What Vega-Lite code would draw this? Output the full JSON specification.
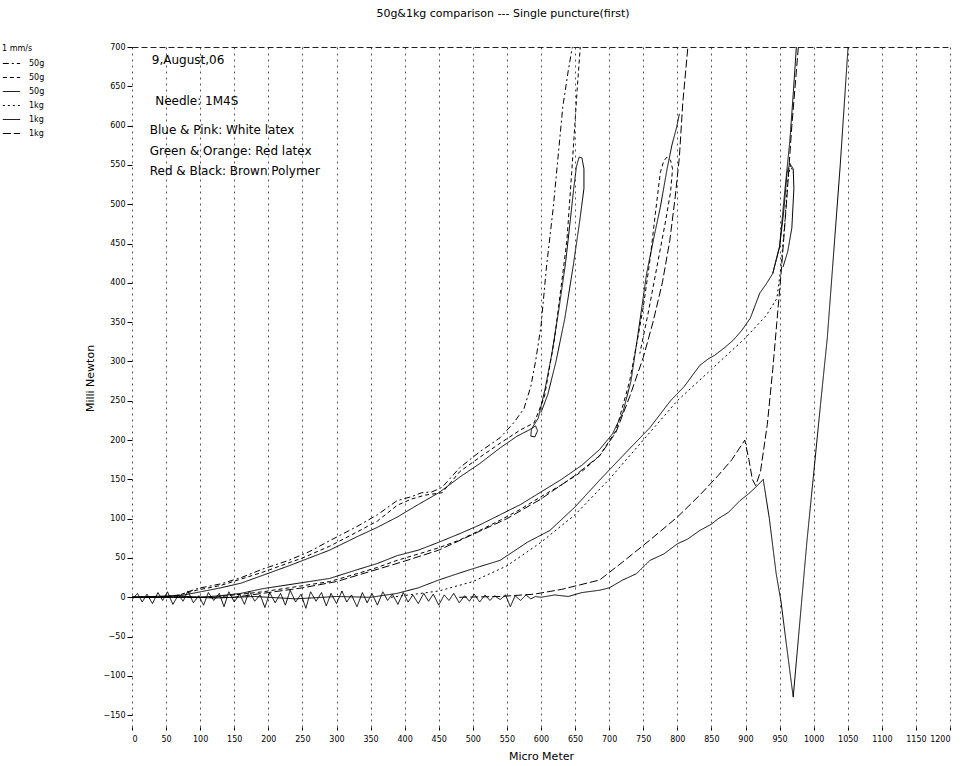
{
"$schema": "https://vega.github.io/schema/vega-lite/v6.json",
"width": 818,
"height": 680,
"autosize": {"type": "none"},
"padding": {"left": 132, "top": 47, "right": 29, "bottom": 39},
"background": "white",
"title": {"text": "50g&1kg comparison --- Single puncture(first)", "fontSize": 11, "fontWeight": "normal", "font": "DejaVu Sans", "color": "#000", "anchor": "middle", "dx": -38, "offset": 24},
"config": {
  "font": "DejaVu Sans",
  "view": {"stroke": null},
  "axis": {"labelFontSize": 8, "labelColor": "#000", "tickColor": "#000", "tickSize": 4, "domain": false, "titleFontWeight": "normal", "titleFontSize": 11, "titleColor": "#000"},
  "legend": {"orient": "none", "legendX": -130, "legendY": -2, "titleFontSize": 8, "titleFontWeight": "normal", "labelFontSize": 8, "symbolType": "stroke", "symbolSize": 300, "symbolStrokeColor": "#000", "rowPadding": 0, "labelOffset": 8, "labelColor": "#000", "titleColor": "#000", "titlePadding": 1}
},
"datasets": {
"curves": [
{"s":"1_50g","c":"W2","x":0,"y":0},{"s":"1_50g","c":"W2","x":50,"y":1},{"s":"1_50g","c":"W2","x":70,"y":3},{"s":"1_50g","c":"W2","x":95,"y":11},{"s":"1_50g","c":"W2","x":130,"y":17},{"s":"1_50g","c":"W2","x":160,"y":25},{"s":"1_50g","c":"W2","x":192,"y":36},{"s":"1_50g","c":"W2","x":230,"y":47},{"s":"1_50g","c":"W2","x":260,"y":58},{"s":"1_50g","c":"W2","x":290,"y":72},{"s":"1_50g","c":"W2","x":330,"y":90},{"s":"1_50g","c":"W2","x":360,"y":105},{"s":"1_50g","c":"W2","x":389,"y":123},{"s":"1_50g","c":"W2","x":410,"y":128},{"s":"1_50g","c":"W2","x":425,"y":133},{"s":"1_50g","c":"W2","x":440,"y":134},{"s":"1_50g","c":"W2","x":455,"y":140},{"s":"1_50g","c":"W2","x":481,"y":165},{"s":"1_50g","c":"W2","x":510,"y":185},{"s":"1_50g","c":"W2","x":540,"y":203},{"s":"1_50g","c":"W2","x":560,"y":222},{"s":"1_50g","c":"W2","x":575,"y":240},{"s":"1_50g","c":"W2","x":585,"y":268},{"s":"1_50g","c":"W2","x":592,"y":300},{"s":"1_50g","c":"W2","x":600,"y":345},{"s":"1_50g","c":"W2","x":608,"y":420},{"s":"1_50g","c":"W2","x":618,"y":496},{"s":"1_50g","c":"W2","x":625,"y":560},{"s":"1_50g","c":"W2","x":632,"y":624},{"s":"1_50g","c":"W2","x":640,"y":670},{"s":"1_50g","c":"W2","x":647,"y":705},

{"s":"2_50g","c":"W3","x":0,"y":0},{"s":"2_50g","c":"W3","x":60,"y":1},{"s":"2_50g","c":"W3","x":95,"y":9},{"s":"2_50g","c":"W3","x":130,"y":15},{"s":"2_50g","c":"W3","x":192,"y":32},{"s":"2_50g","c":"W3","x":250,"y":50},{"s":"2_50g","c":"W3","x":290,"y":65},{"s":"2_50g","c":"W3","x":330,"y":83},{"s":"2_50g","c":"W3","x":360,"y":97},{"s":"2_50g","c":"W3","x":389,"y":117},{"s":"2_50g","c":"W3","x":410,"y":125},{"s":"2_50g","c":"W3","x":430,"y":130},{"s":"2_50g","c":"W3","x":455,"y":133},{"s":"2_50g","c":"W3","x":481,"y":160},{"s":"2_50g","c":"W3","x":510,"y":178},{"s":"2_50g","c":"W3","x":540,"y":196},{"s":"2_50g","c":"W3","x":570,"y":213},{"s":"2_50g","c":"W3","x":590,"y":222},{"s":"2_50g","c":"W3","x":605,"y":255},{"s":"2_50g","c":"W3","x":620,"y":330},{"s":"2_50g","c":"W3","x":632,"y":412},{"s":"2_50g","c":"W3","x":638,"y":454},{"s":"2_50g","c":"W3","x":645,"y":540},{"s":"2_50g","c":"W3","x":653,"y":645},{"s":"2_50g","c":"W3","x":658,"y":705},

{"s":"3_50g","c":"W1","x":0,"y":0},{"s":"3_50g","c":"W1","x":40,"y":0},{"s":"3_50g","c":"W1","x":70,"y":2},{"s":"3_50g","c":"W1","x":95,"y":6},{"s":"3_50g","c":"W1","x":130,"y":12},{"s":"3_50g","c":"W1","x":160,"y":18},{"s":"3_50g","c":"W1","x":192,"y":28},{"s":"3_50g","c":"W1","x":230,"y":40},{"s":"3_50g","c":"W1","x":260,"y":50},{"s":"3_50g","c":"W1","x":290,"y":60},{"s":"3_50g","c":"W1","x":330,"y":77},{"s":"3_50g","c":"W1","x":360,"y":89},{"s":"3_50g","c":"W1","x":389,"y":102},{"s":"3_50g","c":"W1","x":420,"y":118},{"s":"3_50g","c":"W1","x":450,"y":133},{"s":"3_50g","c":"W1","x":481,"y":153},{"s":"3_50g","c":"W1","x":510,"y":170},{"s":"3_50g","c":"W1","x":540,"y":190},{"s":"3_50g","c":"W1","x":565,"y":205},{"s":"3_50g","c":"W1","x":583,"y":213},{"s":"3_50g","c":"W1","x":592,"y":218},{"s":"3_50g","c":"W1","x":595,"y":212},{"s":"3_50g","c":"W1","x":591,"y":204},{"s":"3_50g","c":"W1","x":585,"y":205},{"s":"3_50g","c":"W1","x":586,"y":214},{"s":"3_50g","c":"W1","x":596,"y":228},{"s":"3_50g","c":"W1","x":606,"y":265},{"s":"3_50g","c":"W1","x":616,"y":310},{"s":"3_50g","c":"W1","x":626,"y":365},{"s":"3_50g","c":"W1","x":636,"y":425},{"s":"3_50g","c":"W1","x":643,"y":480},{"s":"3_50g","c":"W1","x":648,"y":520},{"s":"3_50g","c":"W1","x":652,"y":548},{"s":"3_50g","c":"W1","x":656,"y":560},{"s":"3_50g","c":"W1","x":660,"y":559},{"s":"3_50g","c":"W1","x":663,"y":545},{"s":"3_50g","c":"W1","x":663,"y":520},{"s":"3_50g","c":"W1","x":657,"y":480},{"s":"3_50g","c":"W1","x":647,"y":420},{"s":"3_50g","c":"W1","x":635,"y":355},{"s":"3_50g","c":"W1","x":622,"y":300},{"s":"3_50g","c":"W1","x":610,"y":258},{"s":"3_50g","c":"W1","x":600,"y":235},

{"s":"3_50g","c":"R1","x":0,"y":0},{"s":"3_50g","c":"R1","x":100,"y":0},{"s":"3_50g","c":"R1","x":130,"y":2},{"s":"3_50g","c":"R1","x":160,"y":5},{"s":"3_50g","c":"R1","x":192,"y":11},{"s":"3_50g","c":"R1","x":230,"y":16},{"s":"3_50g","c":"R1","x":260,"y":20},{"s":"3_50g","c":"R1","x":290,"y":24},{"s":"3_50g","c":"R1","x":330,"y":35},{"s":"3_50g","c":"R1","x":360,"y":43},{"s":"3_50g","c":"R1","x":389,"y":53},{"s":"3_50g","c":"R1","x":420,"y":60},{"s":"3_50g","c":"R1","x":450,"y":70},{"s":"3_50g","c":"R1","x":481,"y":81},{"s":"3_50g","c":"R1","x":510,"y":92},{"s":"3_50g","c":"R1","x":540,"y":105},{"s":"3_50g","c":"R1","x":570,"y":118},{"s":"3_50g","c":"R1","x":600,"y":134},{"s":"3_50g","c":"R1","x":630,"y":150},{"s":"3_50g","c":"R1","x":660,"y":168},{"s":"3_50g","c":"R1","x":686,"y":188},{"s":"3_50g","c":"R1","x":705,"y":208},{"s":"3_50g","c":"R1","x":720,"y":235},{"s":"3_50g","c":"R1","x":732,"y":275},{"s":"3_50g","c":"R1","x":741,"y":327},{"s":"3_50g","c":"R1","x":755,"y":412},{"s":"3_50g","c":"R1","x":765,"y":455},{"s":"3_50g","c":"R1","x":775,"y":496},{"s":"3_50g","c":"R1","x":785,"y":545},{"s":"3_50g","c":"R1","x":792,"y":575},{"s":"3_50g","c":"R1","x":799,"y":598},{"s":"3_50g","c":"R1","x":803,"y":615},

{"s":"2_50g","c":"R2","x":0,"y":0},{"s":"2_50g","c":"R2","x":120,"y":0},{"s":"2_50g","c":"R2","x":150,"y":3},{"s":"2_50g","c":"R2","x":192,"y":7},{"s":"2_50g","c":"R2","x":230,"y":12},{"s":"2_50g","c":"R2","x":290,"y":20},{"s":"2_50g","c":"R2","x":330,"y":30},{"s":"2_50g","c":"R2","x":360,"y":38},{"s":"2_50g","c":"R2","x":389,"y":47},{"s":"2_50g","c":"R2","x":420,"y":55},{"s":"2_50g","c":"R2","x":450,"y":63},{"s":"2_50g","c":"R2","x":481,"y":73},{"s":"2_50g","c":"R2","x":510,"y":85},{"s":"2_50g","c":"R2","x":540,"y":98},{"s":"2_50g","c":"R2","x":570,"y":112},{"s":"2_50g","c":"R2","x":600,"y":128},{"s":"2_50g","c":"R2","x":630,"y":143},{"s":"2_50g","c":"R2","x":660,"y":160},{"s":"2_50g","c":"R2","x":686,"y":180},{"s":"2_50g","c":"R2","x":710,"y":212},{"s":"2_50g","c":"R2","x":730,"y":275},{"s":"2_50g","c":"R2","x":742,"y":330},{"s":"2_50g","c":"R2","x":750,"y":369},{"s":"2_50g","c":"R2","x":760,"y":430},{"s":"2_50g","c":"R2","x":768,"y":490},{"s":"2_50g","c":"R2","x":775,"y":540},{"s":"2_50g","c":"R2","x":780,"y":555},{"s":"2_50g","c":"R2","x":785,"y":560},{"s":"2_50g","c":"R2","x":790,"y":556},{"s":"2_50g","c":"R2","x":793,"y":545},{"s":"2_50g","c":"R2","x":790,"y":515},{"s":"2_50g","c":"R2","x":782,"y":475},{"s":"2_50g","c":"R2","x":770,"y":420},{"s":"2_50g","c":"R2","x":758,"y":365},{"s":"2_50g","c":"R2","x":745,"y":310},

{"s":"6_1kg","c":"R3","x":0,"y":0},{"s":"6_1kg","c":"R3","x":150,"y":0},{"s":"6_1kg","c":"R3","x":200,"y":6},{"s":"6_1kg","c":"R3","x":250,"y":12},{"s":"6_1kg","c":"R3","x":300,"y":20},{"s":"6_1kg","c":"R3","x":350,"y":33},{"s":"6_1kg","c":"R3","x":400,"y":46},{"s":"6_1kg","c":"R3","x":450,"y":60},{"s":"6_1kg","c":"R3","x":500,"y":80},{"s":"6_1kg","c":"R3","x":550,"y":100},{"s":"6_1kg","c":"R3","x":600,"y":125},{"s":"6_1kg","c":"R3","x":650,"y":155},{"s":"6_1kg","c":"R3","x":686,"y":180},{"s":"6_1kg","c":"R3","x":710,"y":210},{"s":"6_1kg","c":"R3","x":730,"y":255},{"s":"6_1kg","c":"R3","x":750,"y":305},{"s":"6_1kg","c":"R3","x":764,"y":349},{"s":"6_1kg","c":"R3","x":778,"y":400},{"s":"6_1kg","c":"R3","x":789,"y":454},{"s":"6_1kg","c":"R3","x":797,"y":510},{"s":"6_1kg","c":"R3","x":803,"y":560},{"s":"6_1kg","c":"R3","x":808,"y":629},{"s":"6_1kg","c":"R3","x":812,"y":667},{"s":"6_1kg","c":"R3","x":816,"y":705},

{"s":"3_50g","c":"B1","x":0,"y":0},{"s":"3_50g","c":"B1","x":60,"y":2},{"s":"3_50g","c":"B1","x":120,"y":-1},{"s":"3_50g","c":"B1","x":180,"y":1},{"s":"3_50g","c":"B1","x":240,"y":-2},{"s":"3_50g","c":"B1","x":300,"y":1},{"s":"3_50g","c":"B1","x":350,"y":0},{"s":"3_50g","c":"B1","x":389,"y":5},{"s":"3_50g","c":"B1","x":420,"y":12},{"s":"3_50g","c":"B1","x":450,"y":22},{"s":"3_50g","c":"B1","x":481,"y":31},{"s":"3_50g","c":"B1","x":510,"y":39},{"s":"3_50g","c":"B1","x":540,"y":47},{"s":"3_50g","c":"B1","x":580,"y":70},{"s":"3_50g","c":"B1","x":613,"y":85},{"s":"3_50g","c":"B1","x":650,"y":115},{"s":"3_50g","c":"B1","x":686,"y":149},{"s":"3_50g","c":"B1","x":720,"y":180},{"s":"3_50g","c":"B1","x":760,"y":216},{"s":"3_50g","c":"B1","x":790,"y":250},{"s":"3_50g","c":"B1","x":810,"y":268},{"s":"3_50g","c":"B1","x":833,"y":295},{"s":"3_50g","c":"B1","x":845,"y":303},{"s":"3_50g","c":"B1","x":855,"y":308},{"s":"3_50g","c":"B1","x":870,"y":318},{"s":"3_50g","c":"B1","x":882,"y":327},{"s":"3_50g","c":"B1","x":895,"y":340},{"s":"3_50g","c":"B1","x":907,"y":355},{"s":"3_50g","c":"B1","x":921,"y":387},{"s":"3_50g","c":"B1","x":930,"y":398},{"s":"3_50g","c":"B1","x":940,"y":412},{"s":"3_50g","c":"B1","x":950,"y":446},{"s":"3_50g","c":"B1","x":956,"y":490},{"s":"3_50g","c":"B1","x":961,"y":540},{"s":"3_50g","c":"B1","x":965,"y":552},{"s":"3_50g","c":"B1","x":970,"y":545},{"s":"3_50g","c":"B1","x":971,"y":520},{"s":"3_50g","c":"B1","x":968,"y":470},{"s":"3_50g","c":"B1","x":962,"y":440},{"s":"3_50g","c":"B1","x":955,"y":420},

{"s":"3_50g","c":"B3","x":940,"y":412},{"s":"3_50g","c":"B3","x":950,"y":446},{"s":"3_50g","c":"B3","x":958,"y":520},{"s":"3_50g","c":"B3","x":965,"y":580},{"s":"3_50g","c":"B3","x":970,"y":640},{"s":"3_50g","c":"B3","x":975,"y":705},

{"s":"4_1kg","c":"B2","x":380,"y":0},{"s":"4_1kg","c":"B2","x":450,"y":8},{"s":"4_1kg","c":"B2","x":500,"y":20},{"s":"4_1kg","c":"B2","x":550,"y":40},{"s":"4_1kg","c":"B2","x":600,"y":70},{"s":"4_1kg","c":"B2","x":650,"y":105},{"s":"4_1kg","c":"B2","x":700,"y":150},{"s":"4_1kg","c":"B2","x":750,"y":200},{"s":"4_1kg","c":"B2","x":800,"y":250},{"s":"4_1kg","c":"B2","x":850,"y":290},{"s":"4_1kg","c":"B2","x":900,"y":330},{"s":"4_1kg","c":"B2","x":930,"y":358},{"s":"4_1kg","c":"B2","x":946,"y":380},{"s":"4_1kg","c":"B2","x":952,"y":420},{"s":"4_1kg","c":"B2","x":958,"y":480},{"s":"4_1kg","c":"B2","x":962,"y":530},{"s":"4_1kg","c":"B2","x":966,"y":550},{"s":"4_1kg","c":"B2","x":970,"y":540},

{"s":"6_1kg","c":"D","x":480,"y":0},{"s":"6_1kg","c":"D","x":540,"y":1},{"s":"6_1kg","c":"D","x":590,"y":4},{"s":"6_1kg","c":"D","x":630,"y":10},{"s":"6_1kg","c":"D","x":686,"y":22},{"s":"6_1kg","c":"D","x":720,"y":45},{"s":"6_1kg","c":"D","x":760,"y":73},{"s":"6_1kg","c":"D","x":800,"y":102},{"s":"6_1kg","c":"D","x":833,"y":130},{"s":"6_1kg","c":"D","x":860,"y":155},{"s":"6_1kg","c":"D","x":880,"y":175},{"s":"6_1kg","c":"D","x":899,"y":200},{"s":"6_1kg","c":"D","x":905,"y":175},{"s":"6_1kg","c":"D","x":910,"y":150},{"s":"6_1kg","c":"D","x":915,"y":142},{"s":"6_1kg","c":"D","x":922,"y":160},{"s":"6_1kg","c":"D","x":932,"y":220},{"s":"6_1kg","c":"D","x":940,"y":290},{"s":"6_1kg","c":"D","x":946,"y":350},{"s":"6_1kg","c":"D","x":952,"y":410},{"s":"6_1kg","c":"D","x":960,"y":500},{"s":"6_1kg","c":"D","x":968,"y":600},{"s":"6_1kg","c":"D","x":978,"y":705},

{"s":"5_1kg","c":"V","x":0,"y":-3},{"s":"5_1kg","c":"V","x":8,"y":5},{"s":"5_1kg","c":"V","x":15,"y":-6},{"s":"5_1kg","c":"V","x":22,"y":4},{"s":"5_1kg","c":"V","x":30,"y":-8},{"s":"5_1kg","c":"V","x":38,"y":6},{"s":"5_1kg","c":"V","x":45,"y":-4},{"s":"5_1kg","c":"V","x":52,"y":7},{"s":"5_1kg","c":"V","x":60,"y":-9},{"s":"5_1kg","c":"V","x":68,"y":3},{"s":"5_1kg","c":"V","x":75,"y":-5},{"s":"5_1kg","c":"V","x":82,"y":8},{"s":"5_1kg","c":"V","x":90,"y":-7},{"s":"5_1kg","c":"V","x":98,"y":2},{"s":"5_1kg","c":"V","x":105,"y":-10},{"s":"5_1kg","c":"V","x":112,"y":6},{"s":"5_1kg","c":"V","x":120,"y":-4},{"s":"5_1kg","c":"V","x":128,"y":5},{"s":"5_1kg","c":"V","x":135,"y":-12},{"s":"5_1kg","c":"V","x":142,"y":7},{"s":"5_1kg","c":"V","x":150,"y":-6},{"s":"5_1kg","c":"V","x":158,"y":4},{"s":"5_1kg","c":"V","x":165,"y":-9},{"s":"5_1kg","c":"V","x":172,"y":8},{"s":"5_1kg","c":"V","x":180,"y":-5},{"s":"5_1kg","c":"V","x":188,"y":3},{"s":"5_1kg","c":"V","x":195,"y":-13},{"s":"5_1kg","c":"V","x":202,"y":6},{"s":"5_1kg","c":"V","x":210,"y":-7},{"s":"5_1kg","c":"V","x":218,"y":5},{"s":"5_1kg","c":"V","x":225,"y":-10},{"s":"5_1kg","c":"V","x":232,"y":9},{"s":"5_1kg","c":"V","x":240,"y":-6},{"s":"5_1kg","c":"V","x":248,"y":4},{"s":"5_1kg","c":"V","x":255,"y":-14},{"s":"5_1kg","c":"V","x":262,"y":7},{"s":"5_1kg","c":"V","x":270,"y":-5},{"s":"5_1kg","c":"V","x":278,"y":6},{"s":"5_1kg","c":"V","x":285,"y":-11},{"s":"5_1kg","c":"V","x":292,"y":5},{"s":"5_1kg","c":"V","x":300,"y":-8},{"s":"5_1kg","c":"V","x":308,"y":8},{"s":"5_1kg","c":"V","x":315,"y":-6},{"s":"5_1kg","c":"V","x":322,"y":3},{"s":"5_1kg","c":"V","x":330,"y":-12},{"s":"5_1kg","c":"V","x":338,"y":6},{"s":"5_1kg","c":"V","x":345,"y":-7},{"s":"5_1kg","c":"V","x":352,"y":5},{"s":"5_1kg","c":"V","x":360,"y":-10},{"s":"5_1kg","c":"V","x":368,"y":7},{"s":"5_1kg","c":"V","x":375,"y":-4},{"s":"5_1kg","c":"V","x":382,"y":4},{"s":"5_1kg","c":"V","x":390,"y":-9},{"s":"5_1kg","c":"V","x":398,"y":6},{"s":"5_1kg","c":"V","x":405,"y":-6},{"s":"5_1kg","c":"V","x":412,"y":3},{"s":"5_1kg","c":"V","x":420,"y":-8},{"s":"5_1kg","c":"V","x":428,"y":5},{"s":"5_1kg","c":"V","x":435,"y":-5},{"s":"5_1kg","c":"V","x":442,"y":4},{"s":"5_1kg","c":"V","x":450,"y":-10},{"s":"5_1kg","c":"V","x":458,"y":3},{"s":"5_1kg","c":"V","x":465,"y":-4},{"s":"5_1kg","c":"V","x":472,"y":5},{"s":"5_1kg","c":"V","x":480,"y":-7},{"s":"5_1kg","c":"V","x":488,"y":2},{"s":"5_1kg","c":"V","x":495,"y":-5},{"s":"5_1kg","c":"V","x":502,"y":4},{"s":"5_1kg","c":"V","x":510,"y":-6},{"s":"5_1kg","c":"V","x":518,"y":3},{"s":"5_1kg","c":"V","x":525,"y":-4},{"s":"5_1kg","c":"V","x":532,"y":2},{"s":"5_1kg","c":"V","x":540,"y":-3},{"s":"5_1kg","c":"V","x":548,"y":3},{"s":"5_1kg","c":"V","x":555,"y":-12},{"s":"5_1kg","c":"V","x":562,"y":2},{"s":"5_1kg","c":"V","x":570,"y":-4},{"s":"5_1kg","c":"V","x":578,"y":3},{"s":"5_1kg","c":"V","x":585,"y":-2},{"s":"5_1kg","c":"V","x":592,"y":1},{"s":"5_1kg","c":"V","x":600,"y":0},{"s":"5_1kg","c":"V","x":620,"y":3},{"s":"5_1kg","c":"V","x":640,"y":1},{"s":"5_1kg","c":"V","x":660,"y":6},{"s":"5_1kg","c":"V","x":686,"y":9},{"s":"5_1kg","c":"V","x":700,"y":12},{"s":"5_1kg","c":"V","x":720,"y":22},{"s":"5_1kg","c":"V","x":740,"y":30},{"s":"5_1kg","c":"V","x":760,"y":47},{"s":"5_1kg","c":"V","x":780,"y":55},{"s":"5_1kg","c":"V","x":800,"y":68},{"s":"5_1kg","c":"V","x":815,"y":74},{"s":"5_1kg","c":"V","x":833,"y":85},{"s":"5_1kg","c":"V","x":850,"y":93},{"s":"5_1kg","c":"V","x":860,"y":100},{"s":"5_1kg","c":"V","x":875,"y":108},{"s":"5_1kg","c":"V","x":892,"y":123},{"s":"5_1kg","c":"V","x":905,"y":132},{"s":"5_1kg","c":"V","x":915,"y":140},{"s":"5_1kg","c":"V","x":926,"y":150},{"s":"5_1kg","c":"V","x":935,"y":100},{"s":"5_1kg","c":"V","x":945,"y":30},{"s":"5_1kg","c":"V","x":952,"y":-5},{"s":"5_1kg","c":"V","x":960,"y":-60},{"s":"5_1kg","c":"V","x":970,"y":-127},{"s":"5_1kg","c":"V","x":990,"y":70},{"s":"5_1kg","c":"V","x":1010,"y":245},{"s":"5_1kg","c":"V","x":1020,"y":330},{"s":"5_1kg","c":"V","x":1039,"y":550},{"s":"5_1kg","c":"V","x":1052,"y":720}
],
"notes": [
{"x": 29, "y": 683, "text": "9,August,06"},
{"x": 34, "y": 631, "text": "Needle: 1M4S"},
{"x": 26, "y": 594, "text": "Blue & Pink: White latex"},
{"x": 26, "y": 568, "text": "Green & Orange: Red latex"},
{"x": 26, "y": 542, "text": "Red & Black: Brown Polymer"}
]
},
"encoding": {
  "x": {"field": "x", "type": "quantitative", "title": "Micro Meter",
        "scale": {"domain": [0, 1200], "nice": false, "zero": false},
        "axis": {"values": [0,50,100,150,200,250,300,350,400,450,500,550,600,650,700,750,800,850,900,950,1000,1050,1100,1150,1200],
                 "format": "d", "grid": true, "gridDash": [2, 4], "gridColor": "#555", "gridWidth": 1, "labelPadding": 5, "titlePadding": 7, "tickSize": 3}},
  "y": {"field": "y", "type": "quantitative", "title": "Milli Newton",
        "scale": {"domain": [-165, 700], "nice": false, "zero": false},
        "axis": {"values": [-150,-100,-50,0,50,100,150,200,250,300,350,400,450,500,550,600,650,700],
                 "grid": true, "gridDash": [6, 3], "gridColor": "#222",
                 "gridOpacity": {"condition": {"test": "datum.value === 700", "value": 1}, "value": 0},
                 "tickSize": 5, "labelPadding": 2, "titleX": -42, "titleY": 331, "titleAngle": -90, "titleAlign": "center", "titleBaseline": "middle"}}
},
"layer": [
  {
    "data": {"name": "curves"},
    "mark": {"type": "line", "clip": true, "color": "#000"},
    "encoding": {
      "detail": {"field": "c"},
      "order": {"value": null},
      "strokeDash": {"field": "s", "type": "nominal", "title": "1 mm/s",
        "scale": {"domain": ["1_50g","2_50g","3_50g","4_1kg","5_1kg","6_1kg"], "range": [[6,3,2,3],[4,3],[1,0],[2,3],[1,0],[8,3]]},
        "legend": {"labelExpr": "substring(datum.label, 2)"}},
      "strokeWidth": {"field": "s", "type": "nominal", "title": "1 mm/s",
        "scale": {"domain": ["1_50g","2_50g","3_50g","4_1kg","5_1kg","6_1kg"], "range": [1, 1, 1.6, 1, 1.3, 1]},
        "legend": {"labelExpr": "substring(datum.label, 2)"}}
    }
  },
  {
    "data": {"name": "notes"},
    "mark": {"type": "text", "align": "left", "baseline": "middle", "fontSize": 12, "font": "DejaVu Sans", "color": "#000"},
    "encoding": {"text": {"field": "text"}}
  }
]
}
